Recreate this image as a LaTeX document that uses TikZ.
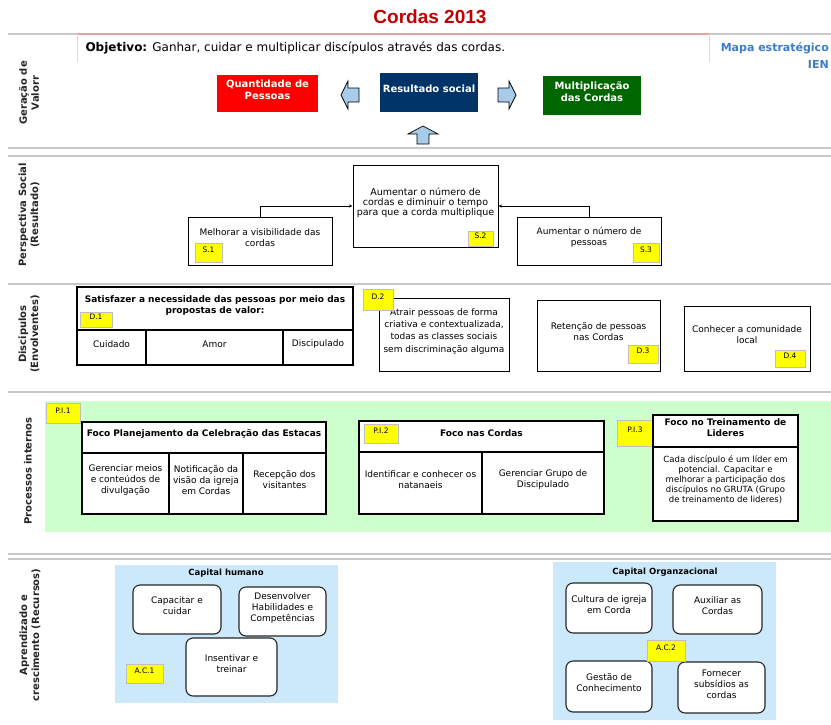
\documentclass[tikz,border=0pt]{standalone}
\usepackage{fontspec}
\setmainfont{DejaVu Sans}
\newfontfamily\arialfont{Liberation Sans}
\usetikzlibrary{fit,arrows.meta}

\definecolor{titlered}{HTML}{C00000}
\definecolor{boxred}{HTML}{FF0000}
\definecolor{boxnavy}{HTML}{003366}
\definecolor{boxgreen}{HTML}{006600}
\definecolor{arrowblue}{HTML}{A9CBEA}
\definecolor{sepgray}{HTML}{C8C8C8}
\definecolor{objpink}{HTML}{E8A0A0}
\definecolor{mapblue}{HTML}{3D7CC9}
\definecolor{tagyellow}{HTML}{FFFF00}
\definecolor{procgreen}{HTML}{CCFFCC}
\definecolor{capblue}{HTML}{CCE9FC}

\newcommand{\txtbody}{\fontsize{9}{11}\selectfont}
\newcommand{\txthead}{\bfseries\fontsize{9}{11}\selectfont}
\newcommand{\txttag}{\fontsize{7.5}{8}\selectfont}
\newcommand{\txtval}{\bfseries\fontsize{10}{12.5}\selectfont}
\newcommand{\txtlane}{\bfseries\fontsize{10}{12}\selectfont}

\tikzset{
  sepline/.style={draw=sepgray, line width=1.3pt},
  valuebox/.style={inner sep=0pt, text=white, font=\txtval, align=center},
  blockarrow/.style={fill=arrowblue, draw=black, line width=0.7pt},
  sbox/.style={draw, line width=1pt, fill=white, inner sep=0pt, align=center, font=\txtbody},
  dbox/.style={draw, line width=1.6pt, fill=white, inner sep=0pt, align=center, font=\txtbody},
  pbox/.style={draw, line width=1.3pt, fill=white, inner sep=0pt, align=center, font=\txtbody},
  headbox/.style={pbox, font=\txthead},
  tagbox/.style={fill=tagyellow, draw=black!25, line width=0.8pt, inner sep=0pt, font=\txttag},
  rbox/.style={draw=black!85, line width=1.1pt, rounded corners=7pt, fill=white, inner sep=0pt, align=center, font=\txtbody},
  lane/.style={font=\txtlane, align=center, rotate=90, text=black!85},
  link/.style={-{Stealth[length=3.5pt,width=3pt]}, line width=0.8pt},
  capbg/.style={fill=capblue, inner sep=0pt},
  captitle/.style={font=\bfseries\fontsize{8.5}{10}\selectfont},
  maptext/.style={anchor=east, inner sep=1pt, font=\bfseries\fontsize{11}{14}\selectfont, text=mapblue}
}

\begin{document}
\begin{tikzpicture}[x=1pt,y=-1pt]
\useasboundingbox (0,0) rectangle (831,724);

% ---------- heading ----------
\node[font=\arialfont\bfseries\fontsize{19}{22}\selectfont, text=titlered] (title) at (430,17) {Cordas 2013};

% ---------- section separators ----------
\draw[sepline] (8,34) -- (831,34);
\draw[objpink, line width=1.2pt] (77,34) -- (709,34);
\draw[objpink!50, line width=0.6pt] (77,34) -- (77,62) (709,34) -- (709,62);
\draw[sepline] (8,148) -- (831,148);
\draw[sepline] (8,156) -- (831,156);
\draw[sepline] (8,284) -- (831,284);
\draw[sepline] (8,392) -- (831,392);
\draw[sepline] (8,554) -- (831,554);
\draw[sepline] (8,559) -- (831,559);

\node[anchor=west, font=\fontsize{12}{14}\selectfont] (objective) at (82,48)
  {\textbf{Objetivo:} Ganhar, cuidar e multiplicar discípulos através das cordas.};
\node[maptext] (mapa) at (830,48) {Mapa estratégico};
\node[maptext] (ien) at (830,64) {IEN};

% ---------- lane labels ----------
\node[lane] (lane1) at (29,93) {Geração de\\Valorr};
\node[lane] (lane2) at (29,215) {Perspectiva Social\\(Resultado)};
\node[lane] (lane3) at (29,334) {Discipulos\\(Envolventes)};
\node[lane] (lane4) at (28,471) {Processos internos};
\node[lane] (lane5) at (30,635) {Aprendizado e\\crescimento (Recursos)};

% ---------- value generation ----------
\node[valuebox, fill=boxred, fit={(217,75)(318,112)}] (qty) {Quantidade de\\Pessoas};
\node[valuebox, fill=boxnavy, fit={(380,73)(478,112)}] (result) {Resultado social};
\node[valuebox, fill=boxgreen, fit={(543,76)(641,115)}] (mult) {Multiplicação\\das Cordas};

\draw[blockarrow] (341,95) -- (348,81) -- (348,88) -- (359,88) -- (359,102) -- (348,102) -- (348,109) -- cycle;
\draw[blockarrow] (516,95) -- (509,81) -- (509,88) -- (498,88) -- (498,102) -- (509,102) -- (509,109) -- cycle;
\draw[blockarrow] (423,126) -- (408,134) -- (417,134) -- (417,144) -- (429,144) -- (429,134) -- (438,134) -- cycle;

% ---------- social perspective ----------
\node[sbox, font={\fontsize{9.5}{10}\selectfont}, fit={(353,165)(498,247)}] (s2)
  {Aumentar o número de\\cordas e diminuir o tempo\\para que a corda multiplique};
\node[sbox, fit={(188,217)(332,265)}] (s1) {Melhorar a visibilidade das\\cordas};
\node[sbox, fit={(517,217)(661,265)}] (s3) {Aumentar o número de\\pessoas};
\node[tagbox, fit={(195,243)(222,262)}] (s1tag) {S.1};
\node[tagbox, fit={(468,231)(493,246)}] (s2tag) {S.2};
\node[tagbox, fit={(633,243)(659,262)}] (s3tag) {S.3};
\draw[link] (s1.north) |- (s2.west);
\draw[link] (s3.north) |- (s2.east);

% ---------- disciples ----------
\node[dbox, font=\txthead, fit={(77,287)(353,330)}] (d1)
  {Satisfazer a necessidade das pessoas por meio das\\propostas de valor:};
\node[dbox, fit={(77,330)(146,365)}] (d1a) {Cuidado};
\node[dbox, fit={(146,330)(283,365)}] (d1b) {Amor};
\node[dbox, fit={(283,330)(353,365)}] (d1c) {Discipulado};
\node[tagbox, fit={(80,312)(112,327)}] (d1tag) {D.1};

\node[sbox, font={\fontsize{9}{12.3}\selectfont}, fit={(379,298)(509,371)}] (d2)
  {Atrair pessoas de forma\\criativa e contextualizada,\\todas as classes sociais\\sem discriminação alguma};
\node[tagbox, fit={(363,289)(393,310)}] (d2tag) {D.2};
\node[sbox, fit={(537,300)(660,371)}] (d3) {Retenção de pessoas\\nas Cordas};
\node[tagbox, fit={(628,345)(658,363)}] (d3tag) {D.3};
\node[sbox, fit={(684,306)(810,371)}] (d4) {Conhecer a comunidade\\local};
\node[tagbox, fit={(775,350)(805,367)}] (d4tag) {D.4};

% ---------- internal processes ----------
\node[fill=procgreen, inner sep=0pt, fit={(45,401)(831,532)}] (procbg) {};
\node[tagbox, fit={(46,403)(80,423)}] (p1tag) {P.I.1};
\node[headbox, fit={(82,422)(326,453)}] (p1) {Foco Planejamento da Celebração das Estacas};
\node[pbox, fit={(82,453)(169,514)}] (p1a) {Gerenciar meios\\e conteúdos de\\divulgação};
\node[pbox, fit={(169,453)(243,514)}] (p1b) {Notificação da\\visão da igreja\\em Cordas};
\node[pbox, fit={(243,453)(326,514)}] (p1c) {Recepção dos\\visitantes};

\node[headbox, fit={(359,421)(604,452)}] (p2) {Foco nas Cordas};
\node[tagbox, fit={(364,424)(398,443)}] (p2tag) {P.I.2};
\node[pbox, fit={(359,452)(482,514)}] (p2a) {Identificar e conhecer os\\natanaeis};
\node[pbox, fit={(482,452)(604,514)}] (p2b) {Gerenciar Grupo de\\Discipulado};

\node[tagbox, fit={(617,420)(653,446)}] (p3tag) {P.I.3};
\node[headbox, fit={(653,415)(798,447)}] (p3) {Foco no Treinamento de\\Lideres};
\node[pbox, fit={(653,447)(798,521)}] (p3a) {};
\node[font={\fontsize{8.5}{10}\selectfont}, align=center, inner sep=0pt] (p3text) at (725.5,480)
  {Cada discípulo é um líder em\\potencial. Capacitar e\\melhorar a participação dos\\discípulos no GRUTA (Grupo\\de treinamento de lideres)};

% ---------- learning and growth ----------
\node[capbg, fit={(115,565)(338,703)}] (humanbg) {};
\node[captitle] (humantitle) at (226,573) {Capital humano};
\node[rbox, fit={(133,585)(221,634)}] (c1) {Capacitar e\\cuidar};
\node[rbox, fit={(239,587)(326,636)}] (c2) {Desenvolver\\Habilidades e\\Competências};
\node[rbox, fit={(186,638)(277,696)}] (c3) {Insentivar e\\treinar};
\node[tagbox, fit={(126,664)(163,683)}] (ac1tag) {A.C.1};

\node[capbg, fit={(553,562)(776,720)}] (orgbg) {};
\node[captitle] (orgtitle) at (665,572) {Capital Organzacional};
\node[rbox, fit={(566,583)(652,633)}] (o1) {Cultura de igreja\\em Corda};
\node[rbox, fit={(673,585)(762,634)}] (o2) {Auxiliar as\\Cordas};
\node[rbox, fit={(566,661)(652,712)}] (o3) {Gestão de\\Conhecimento};
\node[rbox, fit={(678,662)(765,713)}] (o4) {Fornecer\\subsídios as\\cordas};
\node[tagbox, fit={(647,640)(685,661)}] (ac2tag) {A.C.2};
\end{tikzpicture}
\end{document}
